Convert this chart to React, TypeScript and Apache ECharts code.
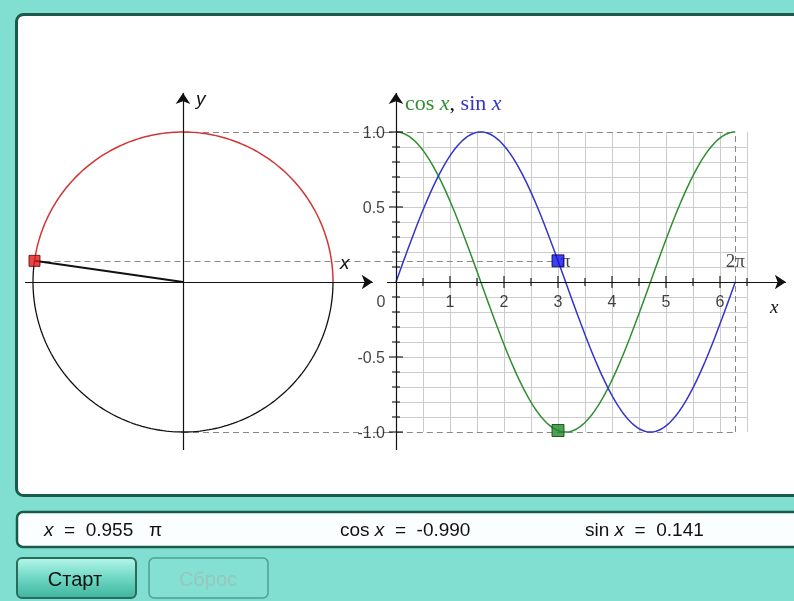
import React, { useEffect, useRef } from "react";
import * as echarts from "echarts";

// ---- values ----
const ANGLE_OVER_PI = 0.955; // x = 0.955 π
const COS_VALUE = -0.99;
const SIN_VALUE = 0.141;
const Y_LABEL_VALUES = [1, 0.5, -0.5, -1];
const Y_LABEL_TEXTS = ["1.0", "0.5", "-0.5", "-1.0"];
const X_LABEL_VALUES = [1, 2, 3, 4, 5, 6];
const X_LABEL_TEXTS = ["1", "2", "3", "4", "5", "6"];
const X_MAJOR_TICKS = [1, 2, 3, 4, 5, 6];
const X_MINOR_TICKS = [0.5, 1.5, 2.5, 3.5, 4.5, 5.5, 6.5];
const Y_MAJOR_TICKS = [1, 0.5, -0.5, -1];
const Y_MINOR_TICKS = [0.9, 0.8, 0.7, 0.6, 0.4, 0.3, 0.2, 0.1, -0.1, -0.2, -0.3, -0.4, -0.6, -0.7, -0.8, -0.9];
const X_GRID = [0.5, 1, 1.5, 2, 2.5, 3, 3.5, 4, 4.5, 5, 5.5, 6, 6.5];
const Y_GRID = [0.9, 0.8, 0.7, 0.6, 0.5, 0.4, 0.3, 0.2, 0.1, -0.1, -0.2, -0.3, -0.4, -0.5, -0.6, -0.7, -0.8, -0.9];
const PI_LABELS = ["π", "2π"];
const PI_LABEL_VALUES = [Math.PI, 2 * Math.PI];
const BUTTON_TEXTS = ["Старт", "Сброс"];

const TWO_PI = 2 * Math.PI;
const THETA = ANGLE_OVER_PI * Math.PI;
const SAMPLE_COUNT = 180;

const GREEN = "#2f8f2f";
const BLUE = "#3434cc";
const RED = "#d23535";
const DARK = "#1b5a4b";
const TEAL = "#80dfd0";
const SANS = "'Liberation Sans', Arial, sans-serif";
const SERIF = "'Liberation Serif', 'Times New Roman', serif";

function curve(fn: (t: number) => number): number[][] {
  const pts: number[][] = [];
  for (let i = 0; i <= SAMPLE_COUNT; i++) {
    const t = (TWO_PI * i) / SAMPLE_COUNT;
    pts.push([t, fn(t)]);
  }
  return pts;
}

function arc(from: number, to: number): number[][] {
  const pts: number[][] = [];
  const n = 160;
  for (let i = 0; i <= n; i++) {
    const a = from + ((to - from) * i) / n;
    pts.push([Math.cos(a), Math.sin(a)]);
  }
  return pts;
}

export default function App() {
  const ref = useRef<HTMLDivElement>(null);

  useEffect(() => {
    if (!ref.current) return;
    const chart = echarts.init(ref.current, undefined, { renderer: "svg" });

    const Y_MIN = -1.14;
    const Y_MAX = 1.27;
    const axisHidden = { show: false };

    const dashed = { color: "#888888", width: 1, type: [6, 4] as any, opacity: 1 };
    const readoutRich = { i: { fontStyle: "italic", fontSize: 19, fontFamily: SANS, fill: "#111" } };

    const option: any = {
      animation: false,
      backgroundColor: "transparent",
      grid: [
        { left: 24, top: 91.5, width: 363, height: 361.5, containLabel: false, outerBoundsMode: "none" },
        { left: 386.8, top: 91.5, width: 403.4, height: 361.5, containLabel: false, outerBoundsMode: "none" },
      ],
      xAxis: [
        { type: "value", gridIndex: 0, min: -1.06, max: 1.36, ...axisHidden },
        { type: "value", gridIndex: 1, min: -0.17, max: 7.3, ...axisHidden },
      ],
      yAxis: [
        { type: "value", gridIndex: 0, min: Y_MIN, max: Y_MAX, ...axisHidden },
        { type: "value", gridIndex: 1, min: Y_MIN, max: Y_MAX, ...axisHidden },
      ],
      graphic: [
        { type: "rect", z: -10, shape: { x: 0, y: 0, width: 794, height: 601 }, style: { fill: TEAL } },
        {
          type: "rect", z: -9,
          shape: { x: 16.5, y: 14.5, width: 830, height: 481, r: 7 },
          style: { fill: "#ffffff", stroke: DARK, lineWidth: 3 },
        },
        {
          type: "rect", z: -9,
          shape: { x: 17, y: 512, width: 830, height: 35, r: 6 },
          style: { fill: "#fbfefe", stroke: DARK, lineWidth: 2.5 },
        },
        {
          type: "rect", z: -9,
          shape: { x: 17, y: 558, width: 119, height: 40, r: 5 },
          style: {
            fill: new echarts.graphic.LinearGradient(0, 0, 0, 1, [
              { offset: 0, color: "#b4f6ea" },
              { offset: 0.5, color: "#6fd8c4" },
              { offset: 1, color: "#3fb49c" },
            ]),
            stroke: "#2a6b5c",
            lineWidth: 2,
          },
        },
        {
          type: "rect", z: -9,
          shape: { x: 149, y: 558, width: 119, height: 40, r: 5 },
          style: { fill: "#84e0d2", stroke: "#4f9f90", lineWidth: 1.5 },
        },
        {
          type: "text", z: 5, x: 75, y: 579,
          style: { text: BUTTON_TEXTS[0], fill: "#111", font: `20px ${SANS}`, align: "center", verticalAlign: "middle" },
        },
        {
          type: "text", z: 5, x: 208, y: 579,
          style: { text: BUTTON_TEXTS[1], fill: "#98c6bd", font: `20px ${SANS}`, align: "center", verticalAlign: "middle" },
        },
        // readouts
        {
          type: "text", z: 5, x: 44, y: 529,
          style: {
            text: "{i|x}  =  0.955   π",
            fill: "#111", font: `19px ${SANS}`, verticalAlign: "middle", rich: readoutRich,
          },
        },
        {
          type: "text", z: 5, x: 340, y: 529,
          style: {
            text: "cos {i|x}  =  -0.990",
            fill: "#111", font: `19px ${SANS}`, verticalAlign: "middle", rich: readoutRich,
          },
        },
        {
          type: "text", z: 5, x: 585, y: 529,
          style: {
            text: "sin {i|x}  =  0.141",
            fill: "#111", font: `19px ${SANS}`, verticalAlign: "middle", rich: readoutRich,
          },
        },
        // axis names
        {
          type: "text", z: 5, x: 196, y: 98,
          style: { text: "y", fill: "#111", font: `italic 19px ${SANS}`, verticalAlign: "middle" },
        },
        {
          type: "text", z: 5, x: 340, y: 262,
          style: { text: "x", fill: "#111", font: `italic 19px ${SANS}`, verticalAlign: "middle" },
        },
        {
          type: "text", z: 5, x: 770, y: 306,
          style: { text: "x", fill: "#111", font: `italic 19px ${SERIF}`, verticalAlign: "middle" },
        },
        {
          type: "text", z: 5, x: 405, y: 102,
          style: {
            text: "{g|cos }{gi|x}{k|, }{b|sin }{bi|x}",
            verticalAlign: "middle",
            rich: {
              g: { fill: GREEN, fontSize: 22, fontFamily: SERIF },
              gi: { fill: GREEN, fontSize: 22, fontFamily: SERIF, fontStyle: "italic" },
              k: { fill: "#111", fontSize: 22, fontFamily: SERIF },
              b: { fill: BLUE, fontSize: 22, fontFamily: SERIF },
              bi: { fill: BLUE, fontSize: 22, fontFamily: SERIF, fontStyle: "italic" },
            },
          },
        },
      ],
      series: [
        // ---------- unit circle (grid 0) ----------
        {
          type: "lines", coordinateSystem: "cartesian2d", xAxisIndex: 0, yAxisIndex: 0, silent: true, z: 2,
          lineStyle: dashed,
          data: [
            { coords: [[0, 1], [1.36, 1]] },
            { coords: [[0, -1], [1.36, -1]] },
            { coords: [[COS_VALUE, SIN_VALUE], [1.36, SIN_VALUE]] },
          ],
        },
        {
          type: "line", xAxisIndex: 0, yAxisIndex: 0, showSymbol: false, silent: true, z: 3,
          lineStyle: { color: "#111", width: 1.3 },
          data: arc(THETA, TWO_PI),
        },
        {
          type: "line", xAxisIndex: 0, yAxisIndex: 0, showSymbol: false, silent: true, z: 3,
          lineStyle: { color: RED, width: 1.5 },
          data: arc(0, THETA),
        },
        {
          type: "lines", coordinateSystem: "cartesian2d", xAxisIndex: 0, yAxisIndex: 0, silent: true, z: 4,
          symbol: ["none", "arrow"], symbolSize: 11,
          lineStyle: { color: "#111", width: 1.2, opacity: 1 },
          data: [
            { coords: [[-1.053, 0], [1.265, 0]] },
            { coords: [[0, -1.12], [0, 1.26]] },
          ],
        },
        {
          type: "lines", coordinateSystem: "cartesian2d", xAxisIndex: 0, yAxisIndex: 0, silent: true, z: 5,
          lineStyle: { color: "#111", width: 2, opacity: 1 },
          data: [{ coords: [[0, 0], [COS_VALUE, SIN_VALUE]] }],
        },
        {
          type: "scatter", xAxisIndex: 0, yAxisIndex: 0, silent: true, z: 6,
          symbol: "rect", symbolSize: 11,
          itemStyle: { color: "#e01818", borderColor: "#5a0000", borderWidth: 1 },
          data: [[COS_VALUE, SIN_VALUE]],
        },
        // ---------- graph (grid 1) ----------
        {
          type: "lines", coordinateSystem: "cartesian2d", xAxisIndex: 1, yAxisIndex: 1, silent: true, z: 1,
          lineStyle: { color: "#cccccc", width: 1, opacity: 1 },
          data: [
            ...X_GRID.map((x) => ({ coords: [[x, -1], [x, 1]] })),
            ...Y_GRID.map((y) => ({ coords: [[0, y], [6.5, y]] })),
          ],
        },
        {
          type: "lines", coordinateSystem: "cartesian2d", xAxisIndex: 1, yAxisIndex: 1, silent: true, z: 2,
          lineStyle: dashed,
          data: [
            { coords: [[-0.17, 1], [TWO_PI, 1]] },
            { coords: [[-0.17, -1], [TWO_PI, -1]] },
            { coords: [[TWO_PI, -1], [TWO_PI, 1]] },
            { coords: [[-0.17, SIN_VALUE], [THETA, SIN_VALUE]] },
          ],
        },
        {
          type: "line", xAxisIndex: 1, yAxisIndex: 1, showSymbol: false, silent: true, z: 3,
          lineStyle: { color: GREEN, width: 1.5 },
          data: curve(Math.cos),
        },
        {
          type: "line", xAxisIndex: 1, yAxisIndex: 1, showSymbol: false, silent: true, z: 3,
          lineStyle: { color: BLUE, width: 1.5 },
          data: curve(Math.sin),
        },
        {
          type: "lines", coordinateSystem: "cartesian2d", xAxisIndex: 1, yAxisIndex: 1, silent: true, z: 4,
          symbol: ["none", "arrow"], symbolSize: 11,
          lineStyle: { color: "#111", width: 1.2, opacity: 1 },
          data: [
            { coords: [[-0.167, 0], [7.22, 0]] },
            { coords: [[0, -1.12], [0, 1.26]] },
          ],
        },
        // ticks
        {
          type: "scatter", xAxisIndex: 1, yAxisIndex: 1, silent: true, z: 4,
          symbol: "rect", symbolSize: [1.4, 12], itemStyle: { color: "#111" },
          data: X_MAJOR_TICKS.map((x) => [x, 0]),
        },
        {
          type: "scatter", xAxisIndex: 1, yAxisIndex: 1, silent: true, z: 4,
          symbol: "rect", symbolSize: [1.4, 8], itemStyle: { color: "#111" },
          data: X_MINOR_TICKS.map((x) => [x, 0]),
        },
        {
          type: "scatter", xAxisIndex: 1, yAxisIndex: 1, silent: true, z: 4,
          symbol: "rect", symbolSize: [14, 1.4], itemStyle: { color: "#111" },
          data: Y_MAJOR_TICKS.map((y) => [0, y]),
        },
        {
          type: "scatter", xAxisIndex: 1, yAxisIndex: 1, silent: true, z: 4,
          symbol: "rect", symbolSize: [8, 1.4], itemStyle: { color: "#111" },
          data: Y_MINOR_TICKS.map((y) => [0, y]),
        },
        // tick labels
        {
          type: "scatter", xAxisIndex: 1, yAxisIndex: 1, silent: true, z: 4,
          symbolSize: 0,
          label: {
            show: true, position: "left", distance: 11, color: "#111",
            fontFamily: SANS, fontSize: 16,
            formatter: (p: any) => Y_LABEL_TEXTS[p.dataIndex],
          },
          data: Y_LABEL_VALUES.map((y) => [0, y]),
        },
        {
          type: "scatter", xAxisIndex: 1, yAxisIndex: 1, silent: true, z: 4,
          symbolSize: 0,
          label: {
            show: true, position: "bottom", distance: 11, color: "#111",
            fontFamily: SANS, fontSize: 16,
            formatter: (p: any) => X_LABEL_TEXTS[p.dataIndex],
          },
          data: X_LABEL_VALUES.map((x) => [x, 0]),
        },
        {
          type: "scatter", xAxisIndex: 1, yAxisIndex: 1, silent: true, z: 4,
          symbolSize: 0,
          label: {
            show: true, position: "bottom", distance: 11, offset: [-15, 0], color: "#111",
            fontFamily: SANS, fontSize: 16, formatter: "0",
          },
          data: [[0, 0]],
        },
        {
          type: "scatter", xAxisIndex: 1, yAxisIndex: 1, silent: true, z: 4,
          symbolSize: 0,
          label: {
            show: true, position: "top", distance: 12, color: "#111",
            fontFamily: SERIF, fontSize: 19,
            formatter: (p: any) => PI_LABELS[p.dataIndex],
          },
          data: PI_LABEL_VALUES.map((x) => [x, 0]),
        },
        // current point markers
        {
          type: "scatter", xAxisIndex: 1, yAxisIndex: 1, silent: true, z: 6,
          symbol: "rect", symbolSize: 12,
          itemStyle: { color: "#1010e8", borderColor: "#000050", borderWidth: 1 },
          data: [[THETA, SIN_VALUE]],
        },
        {
          type: "scatter", xAxisIndex: 1, yAxisIndex: 1, silent: true, z: 6,
          symbol: "rect", symbolSize: 12,
          itemStyle: { color: "#1f8a2a", borderColor: "#0a3a0a", borderWidth: 1 },
          data: [[THETA, COS_VALUE]],
        },
      ],
    };

    chart.setOption(option);
    return () => chart.dispose();
  }, []);

  return (
    <div
      ref={ref}
      style={{ position: "fixed", left: 0, top: 0, width: 794, height: 601 }}
    />
  );
}
